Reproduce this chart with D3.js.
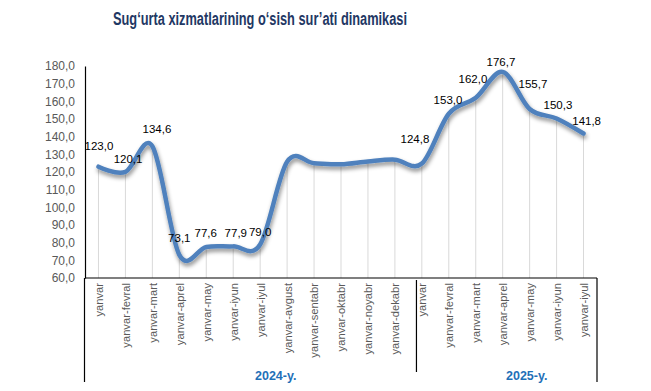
<!DOCTYPE html>
<html>
<head>
<meta charset="utf-8">
<script src="https://cdn.jsdelivr.net/npm/d3@7"></script>
<style>
  html, body { margin: 0; padding: 0; background: #fff; }
  svg { display: block; font-family: Arial, "Liberation Sans", sans-serif; }
</style>
</head>
<body>
<svg id="chart" width="651" height="391"></svg>
<script>
// ---- data ----
const title = "Sug‘urta xizmatlarining o‘sish sur’ati dinamikasi";
const months2024 = ["yanvar", "yanvar-fevral", "yanvar-mart", "yanvar-aprel", "yanvar-may", "yanvar-iyun",
  "yanvar-iyul", "yanvar-avgust", "yanvar-sentabr", "yanvar-oktabr", "yanvar-noyabr", "yanvar-dekabr"];
const months2025 = ["yanvar", "yanvar-fevral", "yanvar-mart", "yanvar-aprel", "yanvar-may", "yanvar-iyun", "yanvar-iyul"];
const values2024 = [123.0, 120.1, 134.6, 73.1, 77.6, 77.9, 79.0, 125.8, 125.0, 124.4, 126.0, 127.0];
const values2025 = [124.8, 153.0, 162.0, 176.7, 155.7, 150.3, 141.8];
const labelShown2024 = [true, true, true, true, true, true, true, false, false, false, false, false];
const labelShown2025 = [true, true, true, true, true, true, true];
const groupLabels = ["2024-y.", "2025-y."];
const yTicks = [60, 70, 80, 90, 100, 110, 120, 130, 140, 150, 160, 170, 180];
// manual label nudges (dx, dy of label centre from point), as placed in the original
const labelNudge = [[0.5,-21],[2.6,-13],[4.6,-17],[0,-16.6],[-0.5,-14.2],[2.6,-13.7],[0,-12.4],
  [0,0],[0,0],[0,0],[0,0],[0,0],
  [-6.9,-24.2],[-0.8,-13.7],[-2.8,-18.5],[-1.7,-10.1],[3.3,-24.6],[1.4,-13.4],[3.1,-12.8]];

// ---- build ----
(function () {
const points = [];
months2024.forEach((m, i) => points.push({ key: "2024-" + i, label: m, value: values2024[i], show: labelShown2024[i], group: 0 }));
months2025.forEach((m, i) => points.push({ key: "2025-" + i, label: m, value: values2025[i], show: labelShown2025[i], group: 1 }));

const svg = d3.select("#chart");
const pLeft = 85, pRight = 597, pTop = 66, pBottom = 278;

const x = d3.scalePoint().domain(points.map(d => d.key)).range([pLeft, pRight]).padding(0.5);
const y = d3.scaleLinear().domain([60, 180]).range([pBottom, pTop]);
const fmt = v => d3.format(".1f")(v).replace(".", ",");

// title
svg.append("text")
  .attr("x", 260).attr("y", 24.5)
  .attr("text-anchor", "middle")
  .attr("font-size", 18).attr("font-weight", "bold")
  .attr("fill", "#1F3864")
  .attr("textLength", 294).attr("lengthAdjust", "spacingAndGlyphs")
  .text(title);

// drop lines
svg.append("g").selectAll("line").data(points).join("line")
  .attr("x1", d => x(d.key)).attr("x2", d => x(d.key))
  .attr("y1", d => y(d.value)).attr("y2", pBottom)
  .attr("stroke", "#d9d9d9").attr("stroke-width", 1);

// y axis
const yAxis = svg.append("g").attr("transform", `translate(${pLeft},0)`)
  .call(d3.axisLeft(y).tickValues(yTicks).tickSize(0).tickPadding(10).tickFormat(fmt));
yAxis.select(".domain").attr("stroke", "#000").attr("stroke-width", 1.2);
yAxis.selectAll("text").attr("font-size", 12).attr("fill", "#595959")
  .attr("font-family", "Arial, 'Liberation Sans', sans-serif");

// x axis
const xAxis = svg.append("g").attr("transform", `translate(0,${pBottom})`)
  .call(d3.axisBottom(x).tickSize(0).tickFormat(k => points.find(p => p.key === k).label));
xAxis.select(".domain").attr("stroke", "#000").attr("stroke-width", 1.2).attr("d", `M${pLeft},0H${pRight}`);
xAxis.selectAll("text")
  .attr("font-size", 11.2).attr("fill", "#595959")
  .attr("font-family", "Arial, 'Liberation Sans', sans-serif")
  .attr("text-anchor", "end")
  .attr("transform", "rotate(-90)")
  .attr("x", -5).attr("y", 0).attr("dy", "0.35em");

// multi-level category lines
const step = x.step();
const sepX = x("2025-0") - step * 0.2;
const axisLines = svg.append("g").attr("stroke", "#000").attr("stroke-width", 1.2);
axisLines.append("line").attr("x1", pLeft - 0.5).attr("x2", pLeft - 0.5).attr("y1", pBottom).attr("y2", 382);
axisLines.append("line").attr("x1", pRight).attr("x2", pRight).attr("y1", pBottom).attr("y2", 382);
axisLines.append("line").attr("x1", sepX).attr("x2", sepX).attr("y1", pBottom + 2).attr("y2", 372);

// group labels
const groupCentres = [(pLeft + sepX) / 2 + 25, (sepX + pRight) / 2 + 20];
svg.append("g").selectAll("text").data(groupLabels).join("text")
  .attr("x", (d, i) => groupCentres[i]).attr("y", 380)
  .attr("text-anchor", "middle")
  .attr("font-size", 12.5).attr("font-weight", "bold").attr("fill", "#1F70B8")
  .text(d => d);

// shadow filter
const defs = svg.append("defs");
const f = defs.append("filter").attr("id", "shadow").attr("x", "-10%").attr("y", "-10%").attr("width", "120%").attr("height", "130%");
f.append("feDropShadow").attr("dx", 1).attr("dy", 3).attr("stdDeviation", 2)
  .attr("flood-color", "#000").attr("flood-opacity", 0.45);

// line
const line = d3.line().x(d => x(d.key)).y(d => y(d.value)).curve(d3.curveCardinal.tension(0));
svg.append("path").datum(points)
  .attr("d", line)
  .attr("fill", "none")
  .attr("stroke", "#4F81BD").attr("stroke-width", 4.5)
  .attr("stroke-linejoin", "round").attr("stroke-linecap", "round")
  .attr("filter", "url(#shadow)");

// data labels
svg.append("g").selectAll("text").data(points.map((p, i) => ({ ...p, i })).filter(p => p.show)).join("text")
  .attr("x", d => x(d.key) + labelNudge[d.i][0])
  .attr("y", d => y(d.value) + labelNudge[d.i][1])
  .attr("dy", "0.35em")
  .attr("text-anchor", "middle")
  .attr("font-size", 11.5).attr("fill", "#000")
  .text(d => fmt(d.value));
})();
</script>
</body>
</html>
